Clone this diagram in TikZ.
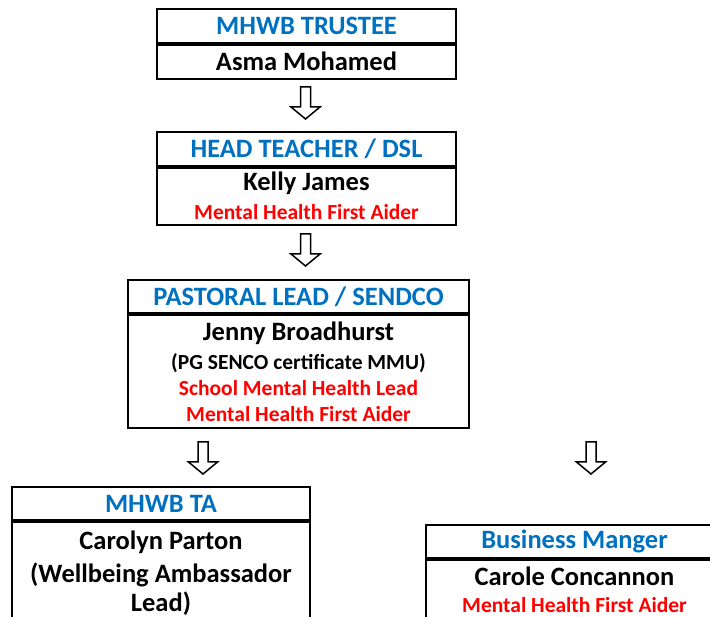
\documentclass[tikz,border=0pt]{standalone}
\usepackage{fontspec}
\setmainfont{Carlito}
\usetikzlibrary{positioning}

\definecolor{roleblue}{HTML}{0070C0}
\definecolor{aidred}{HTML}{FF0000}

\newcommand{\rolefont}{\fontsize{26.5}{32}\selectfont\bfseries}
\newcommand{\namefont}{\fontsize{26.5}{32}\selectfont\bfseries}
\newcommand{\notefont}{\fontsize{21.5}{26}\selectfont\bfseries}
\newcommand{\aider}[1]{{\notefont\color{aidred}#1}}

\tikzset{
  role/.style={draw, line width=2pt, inner sep=0pt, minimum height=33.5pt, text=roleblue, font=\rolefont},
  person/.style={draw, line width=2pt, inner sep=0pt, align=center, font=\namefont},
  downarr/.pic={
    \draw[line width=1.5pt] (-5,0) -- (5,0) -- (5,20) -- (14.5,20) -- (0,32) -- (-14.5,20) -- (-5,20) -- cycle;
  }
}

\begin{document}
\begin{tikzpicture}[x=1pt, y=-1pt]
  \clip (0,0) rectangle (710,617);

  % trustee
  \node[role, minimum width=299pt] (trustee) at (306.5,26) {MHWB TRUSTEE};
  \node[person, minimum width=299pt, minimum height=34pt, below=0pt of trustee] (asma) {Asma Mohamed};

  % head teacher
  \node[role, minimum width=299pt] (head) at (306.5,149) {HEAD TEACHER / DSL};
  \node[person, minimum width=299pt, minimum height=57pt, below=0pt of head] (kelly)
    {Kelly James\\[-3pt]\aider{Mental Health First Aider}};

  % pastoral lead
  \node[role, minimum width=341pt] (pastoral) at (298.5,296.5) {PASTORAL LEAD / SENDCO};
  \node[person, minimum width=341pt, minimum height=113pt, below=0pt of pastoral] (jenny)
    {Jenny Broadhurst\\[-3pt]{\notefont (PG SENCO certificate MMU)}\\[-6pt]
     \aider{School Mental Health Lead}\\[-6pt]\aider{Mental Health First Aider}};

  % teaching assistant
  \node[role, minimum width=298pt] (ta) at (161,503.5) {MHWB TA};
  \node[person, minimum width=298pt, minimum height=102pt, below=0pt of ta] (carolyn)
    {Carolyn Parton\\[1pt](Wellbeing Ambassador\\[-3pt]Lead)};

  % business manager
  \node[role, minimum width=297pt] (business) at (574.5,541.5) {Business Manger};
  \node[person, minimum width=297pt, minimum height=60pt, below=0pt of business] (carole)
    {Carole Concannon\\[-5pt]\aider{Mental Health First Aider}};

  % arrows
  \pic at (305.5,87) {downarr};
  \pic at (305.5,234) {downarr};
  \pic at (203,442) {downarr};
  \pic at (591,442) {downarr};
\end{tikzpicture}
\end{document}
